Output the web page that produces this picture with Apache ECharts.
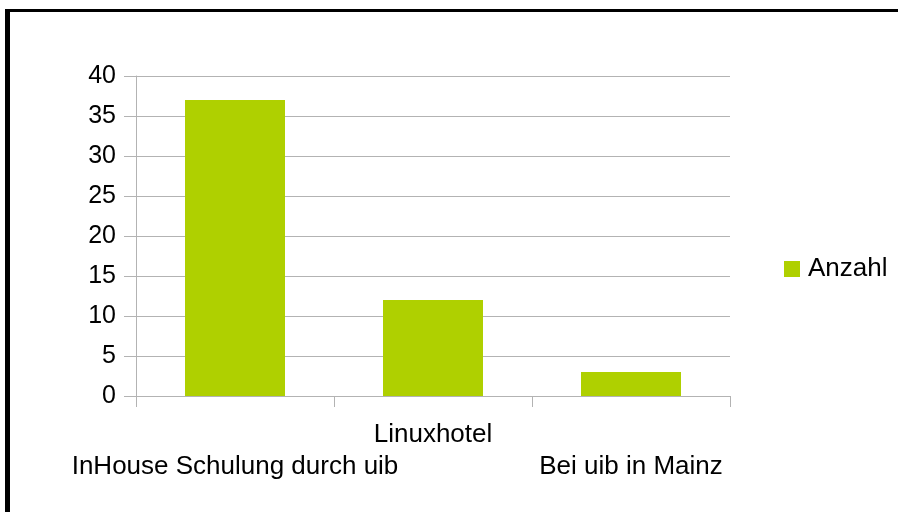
<!DOCTYPE html>
<html>
<head>
<meta charset="utf-8">
<script src="https://cdn.jsdelivr.net/npm/echarts@6/dist/echarts.min.js"></script>
<style>
  html, body { margin: 0; padding: 0; background: #ffffff; }
  #chart { width: 898px; height: 512px; }
</style>
</head>
<body>
<div id="chart"></div>
<script>
// Data
const categories = ['InHouse Schulung durch uib', 'Linuxhotel', 'Bei uib in Mainz'];
const anzahl = [37, 12, 3];
const seriesName = 'Anzahl';

const barColor = '#afd000';
const gridColor = '#b3b3b3';
const font = '"Liberation Sans", Arial, sans-serif';

const chart = echarts.init(document.getElementById('chart'));

chart.setOption({
	animation: false,
	backgroundColor: '#ffffff',
	grid: { left: 136, right: 168, top: 76, bottom: 116, containLabel: false },
	legend: {
		data: [seriesName],
		orient: 'vertical',
		left: 779,
		top: 251,
		itemWidth: 16,
		itemHeight: 16,
		itemGap: 8,
		icon: 'rect',
		textStyle: { fontFamily: font, fontSize: 26, color: '#000', padding: [0, 0, 0, 3] }
	},
	xAxis: {
		type: 'category',
		data: categories,
		axisLine: { lineStyle: { color: gridColor, width: 1 } },
		axisTick: { show: true, length: 11, lineStyle: { color: gridColor } },
		axisLabel: {
			interval: 0,
			margin: 23,
			verticalAlign: 'top',
			lineHeight: 32,
			fontFamily: font,
			fontSize: 26,
			color: '#000',
			// staggered labels like the original
			formatter: (v, i) => (i % 2 === 0 ? '\n' + v : v)
		}
	},
	yAxis: {
		type: 'value',
		min: 0,
		max: 40,
		interval: 5,
		axisLine: { show: true, lineStyle: { color: gridColor } },
		axisTick: { show: true, length: 12, lineStyle: { color: gridColor } },
		splitLine: { lineStyle: { color: gridColor } },
		axisLabel: { margin: 20, fontFamily: font, fontSize: 25, color: '#000' }
	},
	series: [{
		name: seriesName,
		type: 'bar',
		data: anzahl,
		barWidth: 100,
		itemStyle: { color: barColor }
	}],
	graphic: [
		// frame edges visible in the original (top and left only)
		{ type: 'rect', shape: { x: 5, y: 9, width: 893, height: 3 }, style: { fill: '#000' } },
		{ type: 'rect', shape: { x: 5, y: 9, width: 5, height: 503 }, style: { fill: '#000' } }
	]
});
</script>
</body>
</html>
